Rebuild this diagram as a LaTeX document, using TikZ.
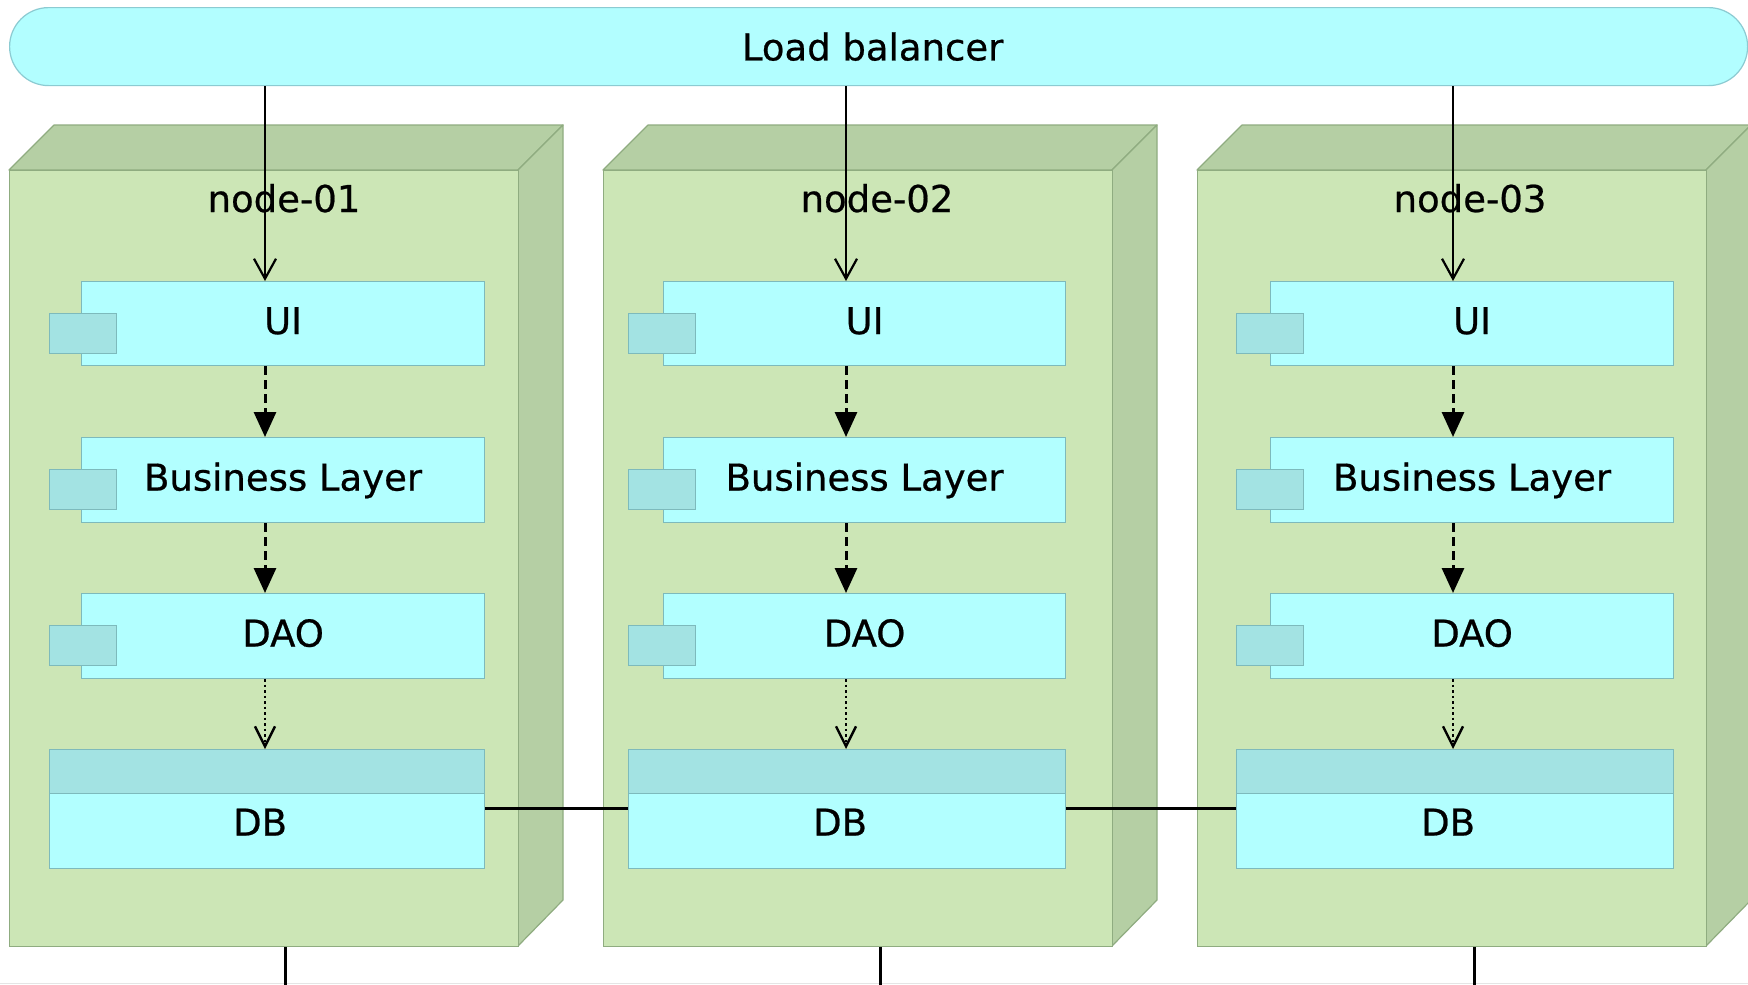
\documentclass[tikz,border=0pt]{standalone}
\usepackage{fontspec}
\setmainfont{DejaVu Sans}[FakeBold=0.6]
\usetikzlibrary{arrows.meta}
\definecolor{lbfill}{HTML}{B2FEFF}
\definecolor{lbdraw}{HTML}{8CCBD2}
\definecolor{compfill}{HTML}{B2FFFF}
\definecolor{compdraw}{HTML}{7DBABC}
\definecolor{tabfill}{HTML}{A3E3E3}
\definecolor{frontfill}{HTML}{CCE6B6}
\definecolor{sidefill}{HTML}{B5CFA4}
\definecolor{greendraw}{HTML}{8FAC80}
\begin{document}
\begin{tikzpicture}[x=1pt,y=-1pt,
  txt/.style={font=\fontsize{37}{44}\selectfont},
  lbbox/.style={draw=lbdraw,fill=lbfill,line width=1.2pt,rounded corners=39pt,inner sep=0pt,txt},
  front/.style={draw=greendraw,fill=frontfill,line width=1.2pt,inner sep=0pt},
  side/.style={draw=greendraw,fill=sidefill,line width=1.2pt,line join=round},
  comp/.style={draw=compdraw,fill=compfill,line width=1.2pt,inner sep=0pt,anchor=north west,txt,text height=28pt,text depth=7pt},
  tabbox/.style={draw=compdraw,fill=tabfill,line width=1.2pt,inner sep=0pt,anchor=north west,minimum width=67pt,minimum height=40pt},
  dbhead/.style={draw=compdraw,fill=tabfill,line width=1.2pt,inner sep=0pt,anchor=north west,minimum height=44pt},
  lbarrow/.style={line width=2.2pt,-{Straight Barb[length=20pt,width=22pt]}},
  deparrow/.style={line width=3pt,dash pattern=on 9pt off 5pt,-{Triangle[length=25pt,width=22pt]}},
  usearrow/.style={line width=2.4pt,dash pattern=on 2.5pt off 3pt,-{Straight Barb[length=20pt,width=20pt]}},
  link/.style={line width=3pt}
]
\useasboundingbox (0,0) rectangle (1748,985);
\fill[white] (0,0) rectangle (1748,985);
\draw[black!10,line width=1pt] (0,983.5) -- (1748,983.5);

% load balancer
\node[lbbox,minimum width=1738pt,minimum height=78pt,anchor=north west] (lb) at (9,7) {Load balancer\kern12pt};

\foreach \i/\fx/\tx/\ux/\rx/\ax/\lx/\bx in {1/9/49/81/484/265/284/285, 2/603/628/663/1065/846/877/880, 3/1197/1236/1270/1673/1453/1470/1474}{
  \pgfmathsetmacro{\fr}{\fx+509}
  \pgfmathsetmacro{\br}{\fx+554}
  \pgfmathsetmacro{\bl}{\fx+45}
  \pgfmathsetmacro{\uw}{\rx-\ux}
  \pgfmathsetmacro{\dw}{\rx-\tx}
  % 3D faces
  \draw[side] (\fx,170) -- (\bl,125) -- (\br,125) -- (\fr,170) -- cycle;
  \draw[side] (\fr,170) -- (\br,125) -- (\br,900) -- (\fr,946) -- cycle;
  \node[front,minimum width=509pt,minimum height=776pt,anchor=north west] (n\i) at (\fx,170) {};
  \node[txt,anchor=base] (n\i l) at (\lx,212) {node-0\i};
  % components
  \node[comp,minimum width=\uw pt,minimum height=84pt] (ui\i) at (\ux,281) {UI};
  \node[tabbox] (tui\i) at (\tx,313) {};
  \node[comp,minimum width=\uw pt,minimum height=85pt] (bl\i) at (\ux,437) {Business Layer};
  \node[tabbox] (tbl\i) at (\tx,469) {};
  \node[comp,minimum width=\uw pt,minimum height=85pt] (dao\i) at (\ux,593) {DAO};
  \node[tabbox] (tdao\i) at (\tx,625) {};
  \node[dbhead,minimum width=\dw pt] (dbh\i) at (\tx,749) {};
  \node[comp,minimum width=\dw pt,minimum height=75pt,text depth=19pt] (db\i) at (\tx,793) {DB\kern14pt};
  % connectors
  \coordinate (a\i) at (\ax,0);
  \coordinate (b\i) at (\bx,985);
  \draw[lbarrow] (lb.south -| a\i) -- (ui\i.north -| a\i);
  \draw[deparrow] (ui\i.south -| a\i) -- (bl\i.north -| a\i);
  \draw[deparrow] (bl\i.south -| a\i) -- (dao\i.north -| a\i);
  \draw[usearrow] (dao\i.south -| a\i) -- (dbh\i.north -| a\i);
  \draw[link] (n\i.south -| b\i) -- (b\i);
}
\coordinate (dbl) at (0,808);
\draw[link] (db1.east |- dbl) -- (db2.west |- dbl);
\draw[link] (db2.east |- dbl) -- (db3.west |- dbl);
\end{tikzpicture}
\end{document}
